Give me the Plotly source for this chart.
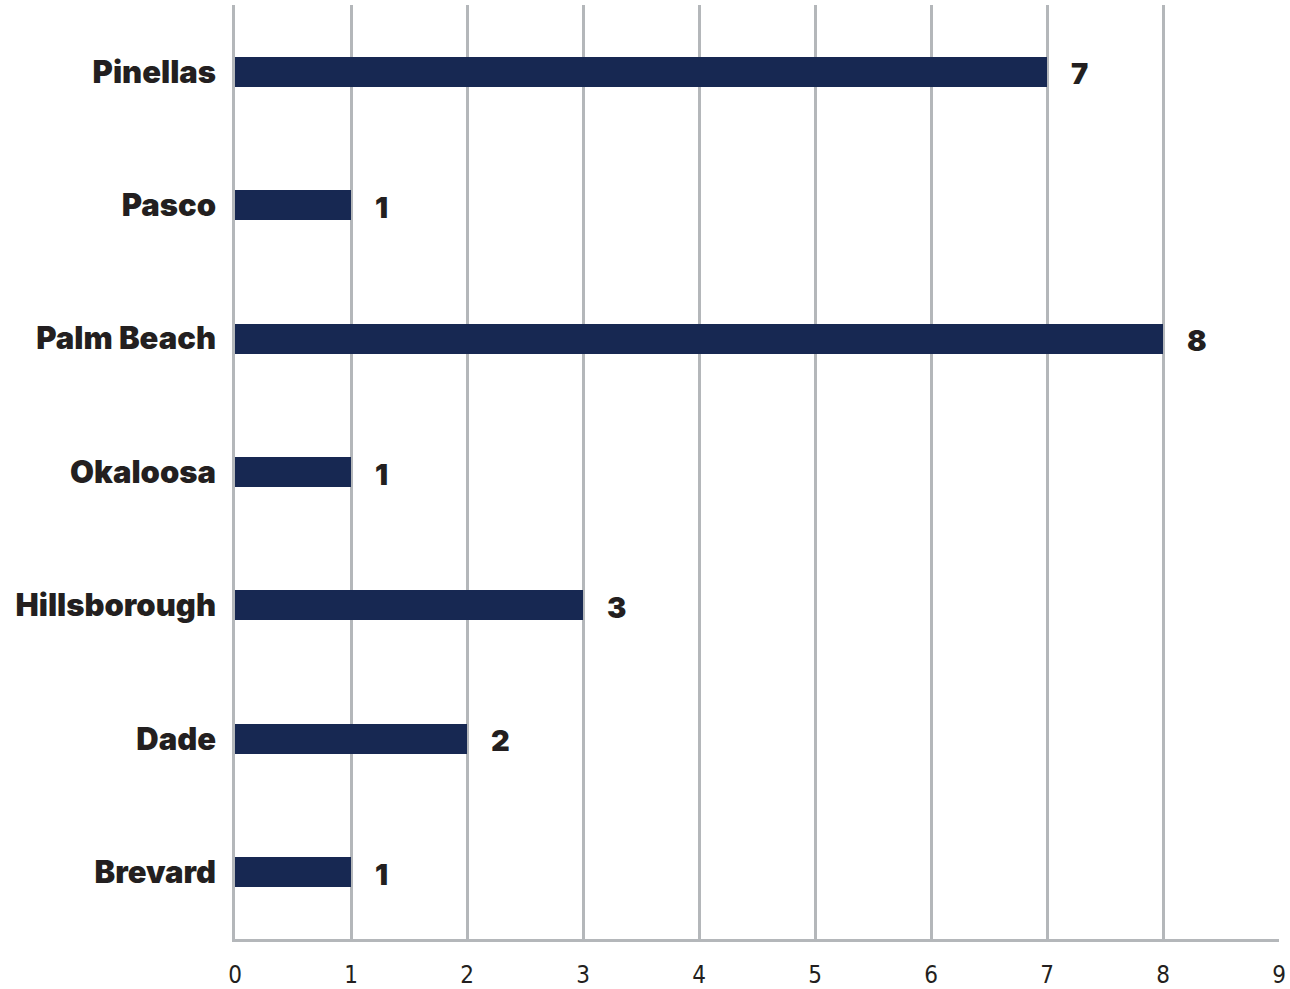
import plotly.graph_objects as go

counties = ["Brevard", "Dade", "Hillsborough", "Okaloosa", "Palm Beach", "Pasco", "Pinellas"]
counts = [1, 2, 3, 1, 8, 1, 7]
x_ticks = [0, 1, 2, 3, 4, 5, 6, 7, 8, 9]

bar_color = "#172852"
grid_color = "#b4b7ba"
label_font = "Inter, Lato, sans-serif"

fig = go.Figure()
fig.add_trace(go.Bar(
    x=counts, y=counties, orientation="h",
    marker=dict(color=bar_color, line=dict(width=0)),
    width=0.225, hoverinfo="skip",
))

for c, v in zip(counties, counts):
    fig.add_annotation(
        x=v, y=c, text=str(v), showarrow=False,
        xanchor="left", xshift=22, yshift=-2,
        font=dict(family=label_font, size=29, color="#231f20", weight=900),
    )

fig.update_layout(
    width=1290, height=989,
    margin=dict(l=235, r=11, t=5, b=50, autoexpand=False),
    paper_bgcolor="white", plot_bgcolor="white",
    showlegend=False,
    bargap=0,
)
fig.update_xaxes(
    range=[0, 9], tickvals=x_ticks, ticktext=[str(t) for t in x_ticks],
    showgrid=True, gridcolor=grid_color, gridwidth=2.5,
    showline=True, linecolor=grid_color, linewidth=2.5,
    ticks="", zeroline=False, automargin=False,
    tickfont=dict(family="DejaVu Sans Condensed, Liberation Sans Narrow, sans-serif", size=24, color="#231f20", weight=300),
    ticklabelstandoff=12,
)
fig.update_yaxes(
    categoryorder="array", categoryarray=counties,
    range=[-0.5, 6.5], automargin=False,
    showgrid=False, showline=True, linecolor=grid_color, linewidth=2.5,
    ticks="", ticklabelstandoff=10,
    tickfont=dict(family=label_font, size=31, color="#231f20", weight=900),
)

fig.write_html(
    "out.html",
    config={"displayModeBar": False},
    post_script="document.body.style.margin='0';document.body.style.overflow='hidden';",
)
